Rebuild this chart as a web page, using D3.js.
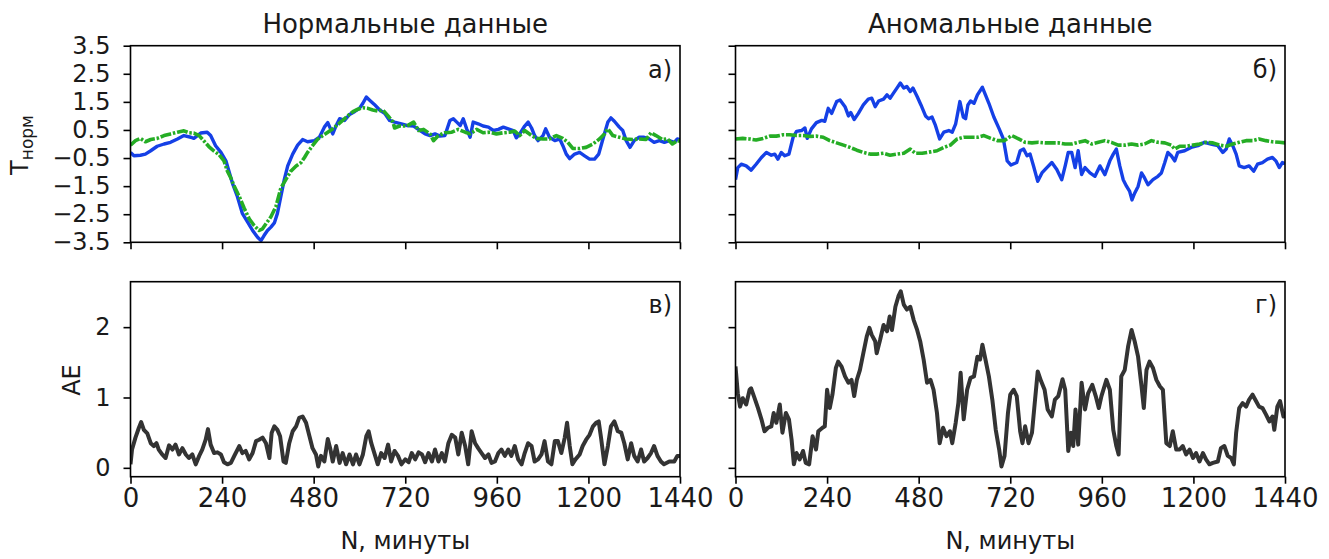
<!DOCTYPE html>
<html><head><meta charset="utf-8">
<script src="https://cdn.jsdelivr.net/npm/d3@7"></script>
<style>html,body{margin:0;padding:0;background:#fff;}svg{display:block;}</style>
</head><body>
<script>
// ---------- DATA ----------
const minuteTicks = [0, 240, 480, 720, 960, 1200, 1440];
const tempTicks = [-3.5, -2.5, -1.5, -0.5, 0.5, 1.5, 2.5, 3.5];
const aeTicks = [0, 1, 2];
const panelTitles = ["Нормальные данные", "Аномальные данные"];
const panelLetters = ["а)", "б)", "в)", "г)"];

// [minute, value]
const normalReal = [[0,-0.3],[9,-0.42],[26,-0.4],[39,-0.36],[53,-0.24],[70,-0.08],[88,0],[105,0.06],[123,0.18],[140,0.3],[158,0.24],[166,0.2],[184,0.39],[201,0.42],[210,0.3],[223,-0.06],[237,-0.3],[250,-0.6],[258,-0.97],[267,-1.39],[280,-1.87],[293,-2.47],[307,-2.78],[320,-3.08],[333,-3.32],[342,-3.44],[350,-3.26],[359,-3.08],[368,-2.96],[377,-2.81],[385,-2.47],[394,-1.87],[403,-1.27],[412,-0.78],[425,-0.36],[438,-0.04],[451,0.16],[464,0.08],[482,0.12],[495,0.24],[508,0.6],[517,0.76],[530,0.36],[539,0.66],[548,0.9],[561,0.84],[574,1.05],[587,1.15],[600,1.27],[609,1.45],[618,1.67],[626,1.57],[639,1.41],[653,1.21],[666,1.09],[679,0.84],[692,0.78],[710,0.72],[724,0.66],[742,0.64],[759,0.48],[772,0.36],[785,0.3],[798,0.36],[811,0.28],[824,0.3],[837,0.84],[846,0.9],[855,0.78],[864,0.66],[872,0.9],[881,0.54],[890,0.24],[898,0.78],[911,0.72],[924,0.64],[938,0.6],[951,0.48],[964,0.52],[977,0.6],[990,0.54],[1003,0.48],[1011,0.22],[1020,0.36],[1033,0.64],[1042,0.78],[1051,0.57],[1059,0.3],[1068,0.12],[1081,0.3],[1088,0.54],[1098,0.24],[1112,0.12],[1125,0.18],[1133,-0.06],[1142,-0.36],[1151,-0.52],[1164,-0.36],[1177,-0.3],[1190,-0.42],[1203,-0.54],[1216,-0.54],[1227,-0.36],[1238,0.18],[1251,0.78],[1259,0.93],[1268,0.81],[1281,0.6],[1290,0.48],[1299,0.12],[1309,-0.12],[1320,0.12],[1333,0.24],[1346,0.24],[1359,0.18],[1372,0.06],[1386,0.12],[1399,0.06],[1412,0.12],[1425,0.06],[1433,0.18],[1440,0.15]];

const normalPred = [[0,-0.04],[13,0.12],[26,0.2],[39,0.08],[53,0.16],[70,0.2],[88,0.3],[105,0.36],[123,0.42],[140,0.47],[153,0.4],[166,0.39],[180,0.3],[193,0.1],[206,-0.1],[219,-0.25],[232,-0.38],[245,-0.6],[254,-0.97],[263,-1.21],[272,-1.51],[285,-1.87],[298,-2.29],[311,-2.66],[324,-2.9],[337,-3.08],[346,-3.02],[355,-2.84],[368,-2.59],[381,-2.23],[394,-1.57],[407,-1.27],[420,-0.97],[434,-0.78],[447,-0.66],[456,-0.48],[464,-0.3],[477,-0.06],[491,0.18],[504,0.3],[517,0.42],[530,0.54],[543,0.69],[556,0.84],[569,1.0],[583,1.15],[596,1.24],[609,1.29],[622,1.27],[635,1.21],[648,1.17],[661,1.21],[675,1.0],[688,0.78],[692,0.57],[705,0.64],[724,0.64],[742,0.78],[755,0.48],[768,0.52],[785,0.36],[794,0.12],[807,0.3],[824,0.4],[842,0.42],[859,0.52],[877,0.42],[890,0.36],[907,0.52],[924,0.4],[942,0.42],[959,0.36],[977,0.4],[994,0.42],[1007,0.46],[1020,0.3],[1033,0.48],[1051,0.3],[1064,0.2],[1081,0.18],[1098,0.18],[1116,0.3],[1133,0.2],[1146,0.06],[1159,-0.16],[1177,-0.16],[1194,-0.12],[1212,0],[1229,0.18],[1242,0.36],[1251,0.54],[1264,0.3],[1281,0.24],[1299,0.18],[1316,0.16],[1333,0.18],[1351,0.16],[1364,0.4],[1377,0.3],[1394,0.16],[1407,0.18],[1420,0],[1433,0.12],[1440,0.1]];

const anomalReal = [[0,-1.27],[6,-0.84],[15,-0.72],[28,-0.78],[41,-0.93],[54,-0.72],[68,-0.48],[81,-0.3],[94,-0.4],[103,-0.36],[111,-0.54],[120,-0.3],[129,-0.42],[140,-0.36],[151,0.24],[160,0.45],[173,0.48],[182,0.57],[188,0.2],[199,0.54],[212,0.76],[226,0.84],[234,0.81],[243,1.27],[252,1.09],[265,1.51],[274,1.57],[287,1.33],[296,1.0],[302,1.12],[311,0.87],[322,1.09],[335,1.39],[348,1.6],[357,1.63],[366,1.33],[375,1.53],[388,1.6],[397,1.75],[405,1.63],[414,1.81],[423,1.99],[432,2.17],[441,1.99],[449,2.05],[458,1.87],[465,1.99],[476,1.69],[486,1.39],[498,1.0],[506,0.9],[515,0.96],[524,0.66],[535,0.18],[546,0.42],[559,0.48],[568,0.42],[577,0.72],[588,1.51],[597,0.96],[603,0.9],[609,1.39],[616,1.53],[625,1.45],[634,1.75],[647,2.02],[655,1.75],[664,1.45],[677,0.96],[691,0.54],[702,0.18],[712,-0.6],[722,-0.75],[737,-0.66],[746,-0.24],[755,-0.18],[764,-0.42],[772,-0.36],[781,-0.78],[792,-1.33],[803,-1.03],[816,-0.84],[829,-0.66],[842,-0.91],[855,-1.27],[864,-0.78],[872,-0.3],[881,-0.3],[890,-0.84],[898,-0.24],[907,-1.09],[916,-0.84],[929,-1.03],[942,-1.15],[955,-0.78],[968,-1.09],[981,-0.6],[990,-0.36],[998,-0.18],[1007,-0.78],[1016,-1.27],[1025,-1.51],[1033,-1.69],[1039,-1.99],[1046,-1.75],[1055,-1.51],[1064,-1.03],[1072,-1.21],[1081,-1.45],[1094,-1.27],[1107,-1.15],[1116,-1.03],[1125,-0.66],[1133,-0.3],[1142,-0.42],[1151,-0.6],[1159,-0.3],[1177,-0.24],[1194,-0.12],[1212,-0.06],[1229,0.06],[1246,0],[1264,-0.06],[1277,-0.3],[1286,-0.18],[1294,0.18],[1303,-0.06],[1312,-0.36],[1320,-0.78],[1333,-0.84],[1346,-0.78],[1358,-0.97],[1368,-0.72],[1381,-0.66],[1394,-0.54],[1407,-0.48],[1416,-0.6],[1425,-0.84],[1433,-0.66],[1440,-0.7]];

const anomalPred = [[0,0.18],[19,0.2],[37,0.18],[54,0.14],[72,0.2],[90,0.28],[107,0.28],[125,0.33],[142,0.33],[160,0.3],[177,0.3],[195,0.27],[212,0.28],[230,0.24],[247,0.12],[265,0.04],[283,-0.04],[300,-0.12],[318,-0.22],[335,-0.3],[353,-0.36],[370,-0.36],[388,-0.33],[405,-0.4],[423,-0.36],[441,-0.33],[458,-0.18],[471,-0.33],[489,-0.33],[511,-0.28],[528,-0.24],[546,-0.12],[563,-0.04],[581,0.18],[598,0.24],[616,0.24],[634,0.24],[651,0.3],[669,0.2],[686,0.12],[704,0.12],[724,0.3],[742,0.18],[759,0.06],[777,0.04],[794,0.06],[811,0.04],[829,0.04],[846,0.04],[864,0],[881,0],[898,0.06],[916,0.12],[933,0],[951,0.06],[968,0.12],[985,0.06],[1003,-0.04],[1020,-0.04],[1038,0],[1055,-0.04],[1072,0],[1090,0.12],[1107,0.06],[1125,0.04],[1142,-0.04],[1151,-0.18],[1164,-0.08],[1181,-0.08],[1199,-0.04],[1216,0],[1233,0.06],[1251,0.04],[1268,-0.04],[1286,-0.08],[1303,0],[1320,0.06],[1338,0.12],[1355,0.12],[1372,0.18],[1390,0.12],[1407,0.08],[1425,0.06],[1440,0.04]];

const normalAE = [[0,0.05],[4,0.26],[13,0.43],[22,0.57],[28,0.65],[35,0.54],[44,0.49],[53,0.35],[61,0.31],[68,0.35],[74,0.26],[83,0.19],[92,0.14],[101,0.32],[110,0.26],[118,0.33],[127,0.19],[136,0.28],[145,0.19],[153,0.14],[162,0.19],[171,0.05],[180,0.17],[188,0.26],[197,0.4],[203,0.55],[210,0.33],[219,0.21],[228,0.22],[237,0.19],[245,0.08],[254,0.05],[263,0.07],[272,0.17],[285,0.31],[293,0.21],[302,0.24],[311,0.12],[320,0.21],[329,0.38],[337,0.4],[346,0.43],[355,0.35],[364,0.14],[370,0.5],[377,0.59],[385,0.54],[392,0.45],[401,0.09],[407,0.07],[416,0.35],[425,0.52],[434,0.59],[442,0.71],[451,0.73],[460,0.64],[469,0.45],[477,0.28],[486,0.19],[492,0.02],[499,0.17],[508,0.09],[517,0.41],[524,0.26],[530,0.09],[539,0.31],[548,0.07],[556,0.21],[565,0.05],[574,0.19],[583,0.05],[591,0.19],[600,0.05],[609,0.19],[618,0.45],[624,0.52],[631,0.35],[639,0.21],[648,0.05],[657,0.21],[666,0.14],[675,0.33],[683,0.09],[692,0.24],[701,0.17],[710,0.05],[720,0.12],[729,0.08],[737,0.21],[746,0.12],[755,0.22],[764,0.19],[772,0.08],[781,0.21],[790,0.09],[798,0.26],[807,0.09],[816,0.21],[824,0.09],[833,0.35],[842,0.47],[851,0.43],[859,0.19],[868,0.5],[877,0.31],[885,0.05],[894,0.52],[903,0.35],[911,0.28],[920,0.21],[929,0.14],[938,0.19],[946,0.07],[955,0.09],[964,0.21],[972,0.26],[981,0.17],[990,0.26],[998,0.17],[1007,0.31],[1016,0.12],[1025,0.05],[1033,0.21],[1042,0.35],[1051,0.31],[1059,0.09],[1068,0.12],[1077,0.19],[1085,0.38],[1094,0.09],[1103,0.05],[1112,0.38],[1120,0.38],[1129,0.21],[1138,0.43],[1144,0.64],[1151,0.31],[1158,0.05],[1166,0.12],[1177,0.19],[1185,0.31],[1194,0.4],[1203,0.47],[1212,0.59],[1220,0.64],[1227,0.66],[1233,0.43],[1242,0.05],[1251,0.31],[1259,0.59],[1268,0.66],[1277,0.52],[1286,0.5],[1294,0.35],[1303,0.12],[1312,0.35],[1320,0.17],[1329,0.09],[1338,0.26],[1346,0.09],[1355,0.14],[1364,0.21],[1372,0.31],[1381,0.17],[1390,0.09],[1398,0.05],[1412,0.09],[1425,0.09],[1433,0.17],[1440,0.17]];

const anomalAE = [[0,1.44],[6,1.06],[12,0.87],[19,0.99],[28,0.9],[37,1.11],[41,1.13],[50,0.99],[59,0.85],[68,0.69],[76,0.52],[85,0.57],[94,0.59],[100,0.78],[107,0.64],[116,0.9],[123,0.5],[132,0.78],[140,0.69],[147,0.4],[153,0.05],[160,0.21],[168,0.12],[177,0.24],[184,0.07],[193,0.05],[202,0.45],[211,0.26],[217,0.52],[228,0.57],[234,0.59],[240,1.11],[247,0.85],[254,1.04],[263,1.42],[269,1.51],[278,1.44],[287,1.3],[296,1.21],[304,1.25],[311,1.02],[318,1.25],[326,1.39],[335,1.63],[344,1.87],[351,1.99],[357,1.89],[366,1.8],[370,1.63],[379,1.82],[388,2.03],[397,1.94],[404,2.15],[410,1.96],[419,2.29],[427,2.44],[433,2.51],[441,2.32],[449,2.25],[458,2.29],[467,2.1],[476,1.96],[484,1.8],[493,1.54],[502,1.21],[511,1.25],[519,1.11],[528,0.78],[535,0.35],[544,0.57],[553,0.45],[562,0.52],[568,0.35],[577,0.64],[584,0.92],[590,1.35],[598,0.69],[607,1.11],[616,1.28],[625,1.3],[634,1.58],[641,1.54],[647,1.75],[655,1.54],[664,1.3],[673,0.97],[682,0.54],[691,0.26],[697,0.02],[705,0.17],[714,0.78],[720,1.04],[729,1.11],[737,1.02],[746,0.52],[752,0.35],[759,0.59],[768,0.35],[777,0.5],[785,0.97],[792,1.37],[801,1.23],[810,1.11],[818,0.83],[829,0.73],[837,0.97],[846,1.02],[857,1.26],[864,1.11],[872,0.24],[879,0.5],[885,0.31],[891,0.83],[898,0.33],[907,1.21],[916,0.83],[924,1.06],[935,1.18],[944,1.02],[952,0.85],[959,1.02],[972,1.25],[981,1.11],[990,0.54],[998,0.31],[1004,0.19],[1011,1.3],[1020,1.39],[1029,1.73],[1038,1.96],[1046,1.8],[1055,1.58],[1064,1.16],[1070,0.85],[1077,1.39],[1085,1.51],[1094,1.42],[1103,1.25],[1112,1.16],[1120,1.11],[1129,0.35],[1138,0.31],[1146,0.52],[1155,0.26],[1164,0.26],[1172,0.31],[1181,0.19],[1190,0.26],[1199,0.14],[1207,0.21],[1216,0.09],[1225,0.21],[1233,0.12],[1242,0.05],[1251,0.07],[1264,0.09],[1272,0.28],[1281,0.31],[1290,0.17],[1299,0.14],[1306,0.05],[1312,0.5],[1320,0.85],[1329,0.92],[1338,0.87],[1346,0.97],[1355,1.04],[1364,0.95],[1372,0.87],[1381,0.85],[1390,0.76],[1399,0.66],[1407,0.73],[1412,0.54],[1420,0.87],[1427,0.95],[1436,0.73],[1440,0.8]];

// ---------- DRAW ----------
const W = 1329, H = 559;
const FONT = "DejaVu Sans, sans-serif";
const BLUE = "#1540e6", GREEN = "#25ad25", GRAY = "#333333", INK = "#1a1a1a";

const svg = d3.select("body").append("svg").attr("width", W).attr("height", H)
  .style("font-family", FONT);

const cols = [[130.5, 680], [735.5, 1285]];
const rows = [[45.7, 242.3], [281.7, 476.7]];
const tempDomain = [-3.5, 3.5];
const aeDomain = [-0.126, 2.646];
const GREEN_DASH = "11,1.8,2.5,1.8";

const panels = [
  {c:0, r:0, series:[{d:normalReal, color:BLUE, w:3.4}, {d:normalPred, color:GREEN, w:3.6, dash:GREEN_DASH}], letter:panelLetters[0]},
  {c:1, r:0, series:[{d:anomalReal, color:BLUE, w:3.4}, {d:anomalPred, color:GREEN, w:3.6, dash:GREEN_DASH}], letter:panelLetters[1]},
  {c:0, r:1, series:[{d:normalAE, color:GRAY, w:4}], letter:panelLetters[2]},
  {c:1, r:1, series:[{d:anomalAE, color:GRAY, w:4}], letter:panelLetters[3]}
];

panels.forEach((p, i) => {
  const [x0, x1] = cols[p.c], [y0, y1] = rows[p.r];
  const x = d3.scaleLinear().domain([0, 1440]).range([x0, x1]);
  const y = d3.scaleLinear().domain(p.r === 0 ? tempDomain : aeDomain).range([y1, y0]);
  const g = svg.append("g");
  const clipId = "clip" + i;
  svg.append("clipPath").attr("id", clipId).append("rect")
    .attr("x", x0).attr("y", y0).attr("width", x1 - x0).attr("height", y1 - y0);

  const line = d3.line().x(d => x(d[0])).y(d => y(d[1]));
  p.series.forEach(s => {
    g.append("path").datum(s.d).attr("d", line)
      .attr("clip-path", `url(#${clipId})`)
      .attr("fill", "none").attr("stroke", s.color).attr("stroke-width", s.w)
      .attr("stroke-linejoin", "round")
      .attr("stroke-dasharray", s.dash || null);
  });

  // x axis
  const xa = d3.axisBottom(x).tickValues(minuteTicks).tickSize(7).tickSizeOuter(0).tickPadding(5)
    .tickFormat(p.r === 1 ? d3.format("d") : () => "");
  const gx = g.append("g").attr("transform", `translate(0,${y1})`).call(xa);
  gx.select(".domain").remove();
  gx.selectAll("line").attr("stroke", "#000").attr("stroke-width", 1.6);
  gx.selectAll("text").attr("font-size", 26).attr("fill", INK).attr("font-family", FONT);

  // y axis
  const ya = d3.axisLeft(y).tickValues(p.r === 0 ? tempTicks : aeTicks).tickSize(7).tickSizeOuter(0).tickPadding(13)
    .tickFormat(p.c === 0 ? (p.r === 0 ? (v => d3.format(".1f")(v).replace("-", "\u2212")) : d3.format("d")) : () => "");
  const gy = g.append("g").attr("transform", `translate(${x0},0)`).call(ya);
  gy.select(".domain").remove();
  gy.selectAll("line").attr("stroke", "#000").attr("stroke-width", 1.6);
  gy.selectAll("text").attr("font-size", 24).attr("fill", INK).attr("font-family", FONT);

  // frame
  g.append("rect").attr("x", x0).attr("y", y0).attr("width", x1 - x0).attr("height", y1 - y0)
    .attr("fill", "none").attr("stroke", "#000").attr("stroke-width", 1.6);

  // letter
  g.append("text").attr("x", x1 - 8).attr("y", y0 + (p.r === 0 ? 32 : 31))
    .attr("text-anchor", "end").attr("font-size", 24).attr("fill", INK).text(p.letter);

  // titles / x labels
  if (p.r === 0) {
    g.append("text").attr("x", (x0 + x1) / 2).attr("y", 33).attr("text-anchor", "middle")
      .attr("font-size", 26).attr("fill", INK).text(panelTitles[p.c]);
  } else {
    g.append("text").attr("x", (x0 + x1) / 2).attr("y", 549).attr("text-anchor", "middle")
      .attr("font-size", 24).attr("fill", INK).text("N, минуты");
  }
});

// y labels
const yl = svg.append("text").attr("transform", "translate(28,145) rotate(-90)")
  .attr("text-anchor", "middle").attr("font-size", 24).attr("fill", INK);
yl.append("tspan").text("T");
yl.append("tspan").attr("font-size", 17).attr("dy", 5).text("норм");

svg.append("text").attr("transform", "translate(80,380) rotate(-90)")
  .attr("text-anchor", "middle").attr("font-size", 24).attr("fill", INK).text("AE");
</script>
</body></html>
